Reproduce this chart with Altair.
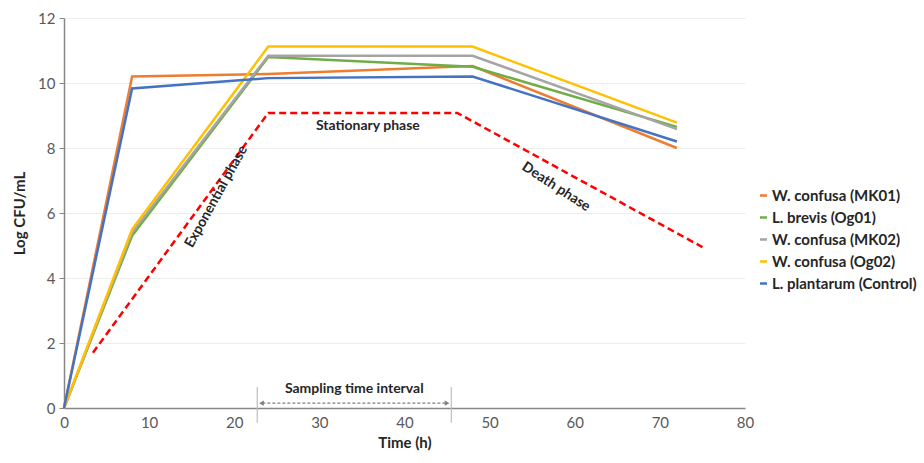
import altair as alt
import pandas as pd

# Sampling times (h) and log CFU/mL for each strain
times = [0, 8, 24, 48, 72]
strains = [
    "W. confusa (MK01)",
    "L. brevis (Og01)",
    "W. confusa (MK02)",
    "W. confusa (Og02)",
    "L. plantarum (Control)",
]
mk01 = [0, 10.2, 10.28, 10.52, 8.0]
og01 = [0, 5.3, 10.8, 10.5, 8.65]
mk02 = [0, 5.4, 10.84, 10.84, 8.58]
og02 = [0, 5.5, 11.12, 11.12, 8.78]
control = [0, 9.83, 10.15, 10.2, 8.2]
colors = ["#ED7D31", "#70AD47", "#A5A5A5", "#FFC000", "#4472C4"]

# Idealised growth curve (red dashed)
phase_x = [3.4, 24.0, 46.2, 75.0]
phase_y = [1.7, 9.08, 9.08, 4.95]

# Phase labels
phase_labels = ["Exponential phase", "Stationary phase", "Death phase"]
phase_lx = [17.9, 35.7, 57.8]
phase_ly = [6.5, 8.68, 6.8]
phase_angle = [299, 0, 33]

# Sampling interval bracket
interval_start, interval_end = 22.7, 45.5
interval_label = "Sampling time interval"

series = [mk01, og01, mk02, og02, control]
rows = []
for name, vals in zip(strains, series):
    for t, v in zip(times, vals):
        rows.append({"Time": t, "Log": v, "Strain": name})
df = pd.DataFrame(rows)

FONT = "Lato"
TXT = "#262626"
TICK_TXT = "#595959"

x_scale = alt.Scale(domain=[0, 80], nice=False)
y_scale = alt.Scale(domain=[0, 12], nice=False)

axis_style = dict(
    labelFont=FONT, labelFontSize=15, labelColor=TICK_TXT, labelFlush=False,
    titleFont=FONT, titleFontSize=15, titleFontWeight="bold", titleColor=TXT,
    domainColor="#868686", domainWidth=1.5, tickColor="#868686",
    gridColor="#EDEDED", gridWidth=1,
)

lines = alt.Chart(df).mark_line(strokeWidth=2.5).encode(
    x=alt.X("Time:Q", scale=x_scale,
            axis=alt.Axis(title="Time (h)", values=list(range(0, 81, 10)),
                          grid=False, ticks=False, labelPadding=7,
                          titlePadding=5, **axis_style)),
    y=alt.Y("Log:Q", scale=y_scale,
            axis=alt.Axis(title="Log CFU/mL", values=list(range(0, 13, 2)),
                          grid=True, ticks=True, tickSize=5, labelPadding=4,
                          titlePadding=10, **axis_style)),
    color=alt.Color("Strain:N", sort=strains,
                    scale=alt.Scale(domain=strains, range=colors),
                    legend=alt.Legend(title=None, orient="none",
                                      legendX=692, legendY=170,
                                      symbolType="stroke", symbolSize=50,
                                      symbolStrokeWidth=2.5, rowPadding=6,
                                      labelFont=FONT, labelFontSize=15,
                                      labelFontWeight="bold", labelColor=TXT,
                                      labelOffset=1)),
    order=alt.Order("Time:Q"),
)

phase_df = pd.DataFrame({"x": phase_x, "y": phase_y, "o": range(len(phase_x))})
phase_line = alt.Chart(phase_df).mark_line(
    color="#FF0000", strokeWidth=2.5, strokeDash=[7, 4]
).encode(x=alt.X("x:Q", scale=x_scale), y=alt.Y("y:Q", scale=y_scale), order="o:Q")

label_df = pd.DataFrame({"t": phase_labels, "x": phase_lx, "y": phase_ly, "a": phase_angle})
label_marks = []
for _, r in label_df.iterrows():
    label_marks.append(
        alt.Chart(pd.DataFrame([r])).mark_text(
            font=FONT, fontSize=14, fontWeight="bold", color=TXT,
            angle=float(r["a"]), align="center", baseline="middle"
        ).encode(x=alt.X("x:Q", scale=x_scale), y=alt.Y("y:Q", scale=y_scale), text="t:N")
    )

# Sampling interval: two upright markers, a dashed double arrow and its label
bounds_df = pd.DataFrame({"x": [interval_start, interval_end], "y": [-0.45, -0.45], "y2": [0.65, 0.65]})
bounds = alt.Chart(bounds_df).mark_rule(color="#BFBFBF", strokeWidth=1.2).encode(
    x=alt.X("x:Q", scale=x_scale), y=alt.Y("y:Q", scale=y_scale), y2="y2:Q"
)
arrow_df = pd.DataFrame({"x": [interval_start + 0.6], "x2": [interval_end - 0.6], "y": [0.15]})
arrow = alt.Chart(arrow_df).mark_rule(color="#7F7F7F", strokeWidth=1.2, strokeDash=[3, 2]).encode(
    x=alt.X("x:Q", scale=x_scale), x2="x2:Q", y=alt.Y("y:Q", scale=y_scale)
)
heads_df = pd.DataFrame({"x": [interval_start + 0.5, interval_end - 0.5], "y": [0.15, 0.15],
                         "s": ["triangle-left", "triangle-right"]})
heads = alt.Chart(heads_df).mark_point(filled=True, color="#7F7F7F", size=30, opacity=1).encode(
    x=alt.X("x:Q", scale=x_scale), y=alt.Y("y:Q", scale=y_scale),
    shape=alt.Shape("s:N", scale=None, legend=None)
)
interval_text = alt.Chart(pd.DataFrame({"t": [interval_label], "x": [(interval_start + interval_end) / 2], "y": [0.6]})).mark_text(
    font=FONT, fontSize=14, fontWeight="bold", color=TXT, align="center", baseline="middle"
).encode(x=alt.X("x:Q", scale=x_scale), y=alt.Y("y:Q", scale=y_scale), text="t:N")

chart = alt.layer(
    phase_line, lines, *label_marks, bounds, arrow, heads, interval_text
).properties(
    width=681, height=390,
    autosize=alt.AutoSizeParams(type="none"),
    padding={"left": 64, "top": 18, "right": 179, "bottom": 55},
    background="white",
).configure_view(stroke=None)

chart.save("out.html", embed_options={"renderer": "svg", "actions": False})
